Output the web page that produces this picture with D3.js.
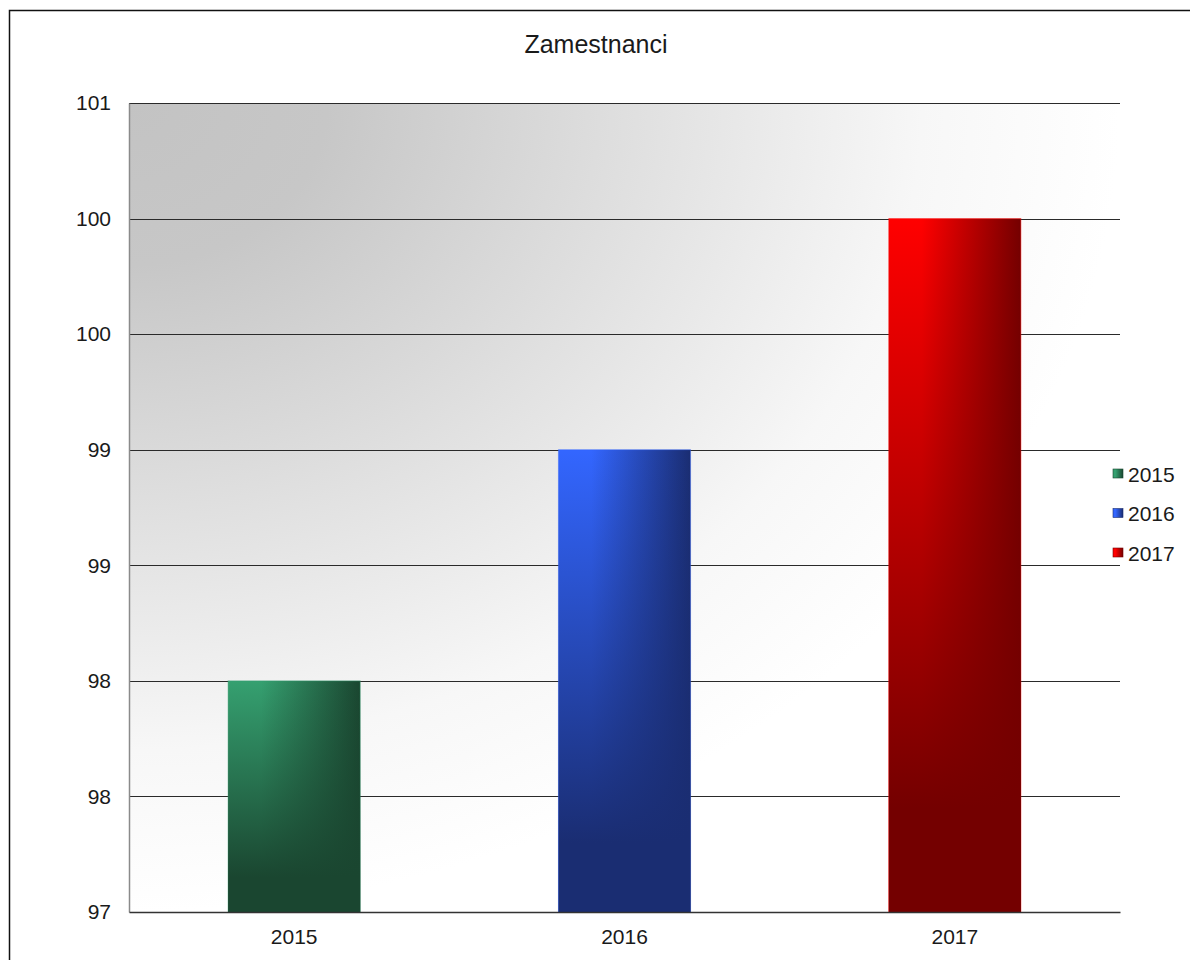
<!DOCTYPE html>
<html>
<head>
<meta charset="UTF-8" />
<title>Zamestnanci</title>
<script src="https://cdn.jsdelivr.net/npm/d3@7"></script>
<style>
body { margin:0; background:#fff; }
text { font-family:"Liberation Sans", Arial, sans-serif; fill:#1a1a1a; }
</style>
</head>
<body>
<div id="chart"></div>
<script type="text/javascript">
var w=1190,h=960;
var plotLeft=129,plotRight=1120,plotTop=103,plotBottom=912;

var years=['2015','2016','2017'];
var values=[98,99,100];
var yTicks=[97,97.5,98,98.5,99,99.5,100,100.5];
var colorsLight=['#35a070','#3366ff','#ff0000'];
var colorsDark=['#1a4630','#1a2d72','#740000'];

var svg=d3.select('#chart').append('svg')
          .attr('width',w)
          .attr('height',h);

var defs=svg.append('defs');

// background: gray in top-left corner fading to white
var bg=defs.append('radialGradient')
           .attr('id','bg')
           .attr('cx',0).attr('cy',0).attr('r',1)
           .attr('fx',0).attr('fy',0);
bg.append('stop').attr('offset',0).attr('stop-color','#c3c3c3');
bg.append('stop').attr('offset',0.2).attr('stop-color','#c7c7c7');
bg.append('stop').attr('offset',0.5).attr('stop-color','#dfdfdf');
bg.append('stop').attr('offset',0.8).attr('stop-color','#f7f7f7');
bg.append('stop').attr('offset',1).attr('stop-color','#ffffff');

years.forEach(function(y,i){
  var g=defs.append('linearGradient')
            .attr('id','bar'+i)
            .attr('x1',0).attr('y1',0).attr('x2',1).attr('y2',0);
  g.append('stop').attr('offset',0).attr('stop-color',colorsLight[i]);
  g.append('stop').attr('offset',0.25).attr('stop-color',colorsLight[i]);
  g.append('stop').attr('offset',1).attr('stop-color',colorsDark[i]);
  var v=defs.append('linearGradient')
            .attr('id','shade'+i)
            .attr('x1',0).attr('y1',0).attr('x2',0).attr('y2',1);
  v.append('stop').attr('offset',0).attr('stop-color',colorsDark[i]).attr('stop-opacity',0);
  v.append('stop').attr('offset',0.85).attr('stop-color',colorsDark[i]).attr('stop-opacity',1);
  v.append('stop').attr('offset',1).attr('stop-color',colorsDark[i]).attr('stop-opacity',1);
});

// outer frame
svg.append('rect')
   .attr('x',9.5).attr('y',10.5)
   .attr('width',1300).attr('height',1100)
   .attr('fill','none')
   .attr('stroke','#111')
   .attr('stroke-width',1.5);

svg.append('text')
   .attr('x',596).attr('y',53)
   .attr('text-anchor','middle')
   .attr('font-size',25)
   .text('Zamestnanci');

var x=d3.scaleBand().domain(years).range([plotLeft,plotRight]).padding(0);
var y=d3.scaleLinear().domain([97,100.5]).range([plotBottom,plotTop]);

svg.append('rect')
   .attr('x',plotLeft).attr('y',plotTop)
   .attr('width',plotRight-plotLeft).attr('height',plotBottom-plotTop)
   .attr('fill','url(#bg)');

// gridlines
svg.append('g').selectAll('line')
   .data(yTicks.slice(1))
   .enter()
   .append('line')
   .attr('x1',plotLeft).attr('x2',plotRight)
   .attr('y1',function(d){ return Math.round(y(d))+0.5; })
   .attr('y2',function(d){ return Math.round(y(d))+0.5; })
   .attr('stroke','#2a2a2a')
   .attr('stroke-width',1.2);

// y axis
var yAxis=d3.axisLeft(y)
            .tickValues(yTicks)
            .tickSize(0)
            .tickPadding(18)
            .tickFormat(function(d){ return Math.round(d); });
var ya=svg.append('g').attr('transform','translate('+plotLeft+',0)').call(yAxis);
ya.select('.domain').attr('stroke','#8a8a8a').attr('stroke-width',1.5);
ya.selectAll('text').attr('font-size',21).attr('font-family','Liberation Sans, Arial, sans-serif').attr('fill','#1a1a1a');

// bars
var bw=x.bandwidth()*0.4;
var bars=svg.append('g').selectAll('g')
   .data(values)
   .enter()
   .append('g');
bars.append('rect')
    .attr('x',function(d,i){ return x(years[i])+x.bandwidth()*0.3; })
    .attr('y',function(d){ return y(d); })
    .attr('width',bw)
    .attr('height',function(d){ return plotBottom-y(d); })
    .attr('fill',function(d,i){ return 'url(#bar'+i+')'; })
    .attr('stroke',function(d,i){ return colorsLight[i]; })
    .attr('stroke-opacity',0.45)
    .attr('stroke-width',1);
bars.append('rect')
    .attr('x',function(d,i){ return x(years[i])+x.bandwidth()*0.3; })
    .attr('y',function(d){ return y(d); })
    .attr('width',bw)
    .attr('height',function(d){ return plotBottom-y(d); })
    .attr('fill',function(d,i){ return 'url(#shade'+i+')'; });

// x axis
var xAxis=d3.axisBottom(x).tickSize(0).tickPadding(17);
var xa=svg.append('g').attr('transform','translate(0,'+plotBottom+')').call(xAxis);
xa.select('.domain').attr('stroke','#333').attr('stroke-width',1.5);
xa.selectAll('text').attr('font-size',21).attr('font-family','Liberation Sans, Arial, sans-serif').attr('fill','#1a1a1a');

// legend
var legend=svg.append('g').selectAll('g')
   .data(years)
   .enter()
   .append('g')
   .attr('transform',function(d,i){ return 'translate(1113,'+(469+i*39.5)+')'; });
legend.append('rect')
   .attr('width',10).attr('height',9)
   .attr('fill',function(d,i){ return 'url(#bar'+i+')'; })
   .attr('stroke',function(d,i){ return colorsDark[i]; })
   .attr('stroke-width',0.6);
legend.append('text')
   .attr('x',15).attr('y',12.5)
   .attr('font-size',21)
   .text(function(d){ return d; });
</script>
</body>
</html>
